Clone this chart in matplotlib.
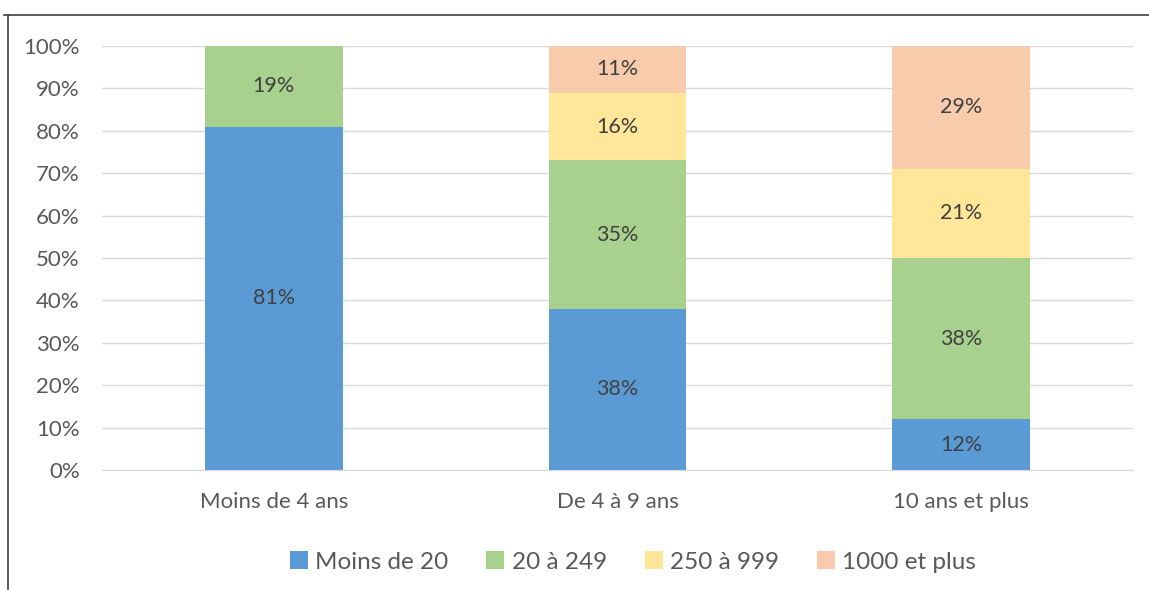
import matplotlib.pyplot as plt
from matplotlib.lines import Line2D
import numpy as np

categories = ["Moins de 4 ans", "De 4 à 9 ans", "10 ans et plus"]
series = ["Moins de 20", "20 à 249", "250 à 999", "1000 et plus"]
moins_20 = [81, 38, 12]
de_20_249 = [19, 35, 38]
de_250_999 = [0, 16, 21]
plus_1000 = [0, 11, 29]
colors = ["#5B9BD5", "#A9D18E", "#FFE699", "#F8CBAD"]

plt.rcParams['font.family'] = ['Lato', 'DejaVu Sans']
txt = "#595959"

fig = plt.figure(figsize=(11.49, 5.90), dpi=100)
ax = fig.add_axes([102 / 1149, 1 - 470 / 590, 1031 / 1149, 424 / 590])

x = np.arange(len(categories))
bottom = np.zeros(len(categories))
for name, vals, c in zip(series, [moins_20, de_20_249, de_250_999, plus_1000], colors):
    vals = np.array(vals, dtype=float)
    ax.bar(x, vals, 0.4, bottom=bottom, color=c, label=name, zorder=2)
    for xi, v, b in zip(x, vals, bottom):
        if v > 0:
            ax.text(xi, b + v / 2, f"{v:.0f}%", ha="center", va="center",
                    fontsize=15.5, color="#404040", zorder=3)
    bottom += vals

ax.set_xlim(-0.5, 2.5)
ax.set_ylim(0, 100)
ax.set_yticks(range(0, 101, 10))
ax.set_yticklabels([f"{v}%" for v in range(0, 101, 10)])
ax.set_xticks(x)
ax.set_xticklabels(categories)
ax.tick_params(length=0, labelsize=16, colors=txt)
ax.tick_params(axis="x", pad=16)
ax.tick_params(axis="y", pad=16)
ax.grid(axis="y", color="#D9D9D9", linewidth=1, zorder=0)
for s in ["top", "right", "left"]:
    ax.spines[s].set_visible(False)
ax.spines["bottom"].set_color("#D9D9D9")

ax.legend(loc="center", bbox_to_anchor=(633 / 1149, 1 - 562 / 590),
          bbox_transform=fig.transFigure, ncol=4, frameon=False,
          fontsize=17.5, labelcolor=txt, handlelength=0.75, handleheight=0.75,
          handletextpad=0.3, columnspacing=1.55)

# chart frame edges visible in the screenshot
fig.add_artist(Line2D([4 / 1149, 1], [1 - 15 / 590, 1 - 15 / 590], color="#404040", lw=1.2))
fig.add_artist(Line2D([8 / 1149, 8 / 1149], [0, 1 - 15 / 590], color="#404040", lw=1.2))

fig.savefig("out.png", dpi=100)
